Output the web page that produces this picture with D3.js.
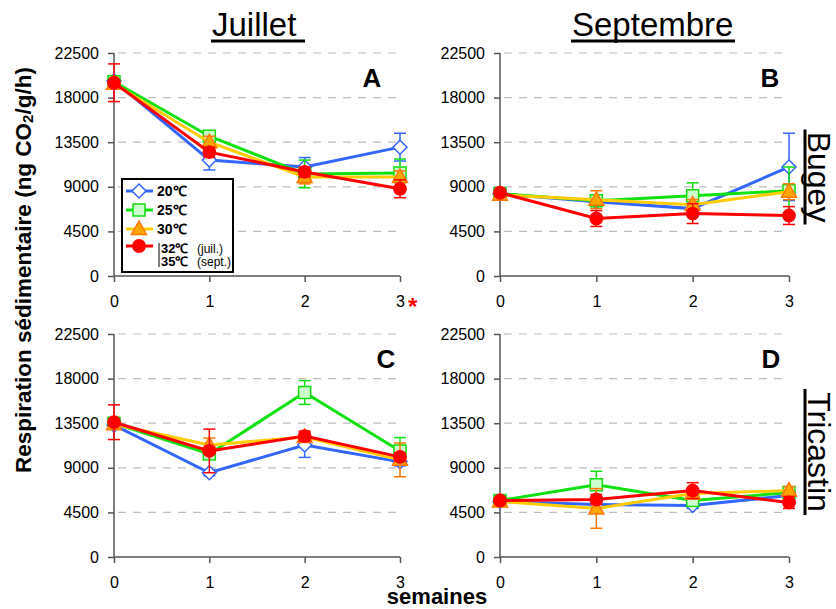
<!DOCTYPE html>
<html>
<head>
<meta charset="utf-8">
<script src="https://cdn.jsdelivr.net/npm/d3@7"></script>
<style>
  body { margin: 0; background: #fff; }
  text { font-family: "Liberation Sans", Arial, sans-serif; }
</style>
</head>
<body>
<svg id="chart" width="836" height="609"></svg>
<script>
// weeks and temperature series
const weeks = [0, 1, 2, 3];
const seriesNames = ["20℃", "25℃", "30℃", "32℃"];
const yTicks = [0, 4500, 9000, 13500, 18000, 22500];

// means per series (20, 25, 30, 32/35 °C) and their error bars
const aMeans = [
  [19700, 11700, 11000, 13000],
  [19600, 14100, 10300, 10400],
  [19400, 13500, 10000, 10000],
  [19500, 12500, 10500, 8800],
];
const aErrors = [
  [400, 1000, 950, 1400],
  [400, 500, 1400, 1400],
  [400, 600, 700, 600],
  [1900, 500, 500, 900],
];
const bMeans = [
  [8300, 7500, 6800, 11000],
  [8300, 7600, 8100, 8600],
  [8200, 7700, 7200, 8500],
  [8400, 5800, 6300, 6100],
];
const bErrors = [
  [300, 400, 400, 3400],
  [400, 400, 1300, 2400],
  [300, 900, 500, 800],
  [300, 800, 1000, 900],
];
const cMeans = [
  [13300, 8500, 11300, 9600],
  [13500, 10400, 16600, 10700],
  [13400, 11300, 12100, 9800],
  [13600, 10700, 12200, 10100],
];
const cErrors = [
  [300, 300, 1250, 400],
  [300, 400, 1200, 1350],
  [300, 700, 500, 1700],
  [1750, 2200, 500, 400],
];
const dMeans = [
  [5600, 5300, 5200, 6200],
  [5700, 7300, 5700, 6500],
  [5600, 4900, 6400, 6700],
  [5700, 5800, 6700, 5500],
];
const dErrors = [
  [200, 300, 300, 700],
  [300, 1350, 300, 300],
  [300, 2000, 500, 400],
  [300, 500, 800, 600],
];

const styles = [
  { line: "#3366ff", stroke: "#3366ff", fill: "#ffffff", err: "#3366ff", shape: "diamond" },
  { line: "#11e011", stroke: "#11dd11", fill: "#ccffcc", err: "#11dd11", shape: "square" },
  { line: "#ffcc00", stroke: "#ff7700", fill: "#ffa500", err: "#ff7700", shape: "triangle" },
  { line: "#ff0000", stroke: "#ff0000", fill: "#ff0000", err: "#ff0000", shape: "circle" },
];

const svg = d3.select("#chart");

const panels = [
  { letter: "A", means: aMeans, errors: aErrors, x0: 114, x1: 400, y0: 276, y1: 53, lx: 372 },
  { letter: "B", means: bMeans, errors: bErrors, x0: 500, x1: 789, y0: 276, y1: 53, lx: 770 },
  { letter: "C", means: cMeans, errors: cErrors, x0: 114, x1: 400, y0: 557, y1: 334, lx: 386 },
  { letter: "D", means: dMeans, errors: dErrors, x0: 500, x1: 789, y0: 557, y1: 334, lx: 771 },
];

function markerPath(shape) {
  if (shape === "diamond") return "M0,-7L7,0L0,7L-7,0Z";
  if (shape === "square") return "M-6,-6H6V6H-6Z";
  if (shape === "triangle") return "M0,-8L7.5,5.5L-7.5,5.5Z";
  return d3.symbol(d3.symbolCircle, 120)();
}

panels.forEach((p) => {
  const x = d3.scaleLinear().domain([0, 3]).range([p.x0, p.x1]);
  const y = d3.scaleLinear().domain([0, 22500]).range([p.y0, p.y1]);
  const g = svg.append("g");

  // dashed grid
  g.selectAll(".grid")
    .data(yTicks.slice(1))
    .enter()
    .append("line")
    .attr("x1", p.x0 + 4)
    .attr("x2", p.x1 - 1)
    .attr("y1", (d) => y(d))
    .attr("y2", (d) => y(d))
    .attr("stroke", "#bdbdbd")
    .attr("stroke-width", 1.2)
    .attr("stroke-dasharray", "8,7");

  // axes
  const yAxis = g.append("g")
    .attr("transform", `translate(${p.x0},0)`)
    .call(d3.axisLeft(y).tickValues(yTicks).tickSize(6).tickPadding(9).tickFormat(d3.format("d")));
  const xAxis = g.append("g")
    .attr("transform", `translate(0,${p.y0})`)
    .call(d3.axisBottom(x).tickValues(weeks).tickSize(6).tickPadding(14).tickFormat(d3.format("d")));
  [yAxis, xAxis].forEach((a) => {
    a.select(".domain").attr("stroke", "#555").attr("stroke-width", 1.5);
    a.selectAll(".tick line").attr("stroke", "#555").attr("stroke-width", 1.5);
    a.selectAll("text")
      .attr("font-size", "16px")
      .attr("fill", "#000")
      .attr("font-family", "Liberation Sans, Arial, sans-serif");
  });
  yAxis.select(".domain").attr("d", `M0,${p.y0}V${p.y1}`);
  xAxis.select(".domain").attr("d", `M${p.x0},0H${p.x1}`);

  // series
  p.means.forEach((vals, si) => {
    const st = styles[si];
    const pts = vals.map((v, i) => ({ w: weeks[i], v, e: p.errors[si][i] }));

    const eb = g.append("g");
    eb.selectAll("line.bar")
      .data(pts)
      .enter()
      .append("line")
      .attr("x1", (d) => x(d.w))
      .attr("x2", (d) => x(d.w))
      .attr("y1", (d) => y(d.v - d.e))
      .attr("y2", (d) => y(d.v + d.e))
      .attr("stroke", st.err)
      .attr("stroke-width", 1.5);
    [-1, 1].forEach((s) => {
      eb.selectAll(null)
        .data(pts)
        .enter()
        .append("line")
        .attr("x1", (d) => x(d.w) - 6)
        .attr("x2", (d) => x(d.w) + 6)
        .attr("y1", (d) => y(d.v + s * d.e))
        .attr("y2", (d) => y(d.v + s * d.e))
        .attr("stroke", st.err)
        .attr("stroke-width", 1.5);
    });

    g.append("path")
      .datum(pts)
      .attr("fill", "none")
      .attr("stroke", st.line)
      .attr("stroke-width", 3)
      .attr("d", d3.line().x((d) => x(d.w)).y((d) => y(d.v)));

    g.selectAll(null)
      .data(pts)
      .enter()
      .append("path")
      .attr("transform", (d) => `translate(${x(d.w)},${y(d.v)})`)
      .attr("d", markerPath(st.shape))
      .attr("fill", st.fill)
      .attr("stroke", st.stroke)
      .attr("stroke-width", 1.5);
  });

  // panel letter
  g.append("text")
    .attr("x", p.lx)
    .attr("y", p.y1 + 34)
    .attr("text-anchor", "middle")
    .attr("font-size", "26px")
    .attr("font-weight", "bold")
    .text(p.letter);
});

// red asterisk after week 3 in panel A
svg.append("text")
  .attr("x", 408)
  .attr("y", 315)
  .attr("font-size", "24px")
  .attr("font-weight", "bold")
  .attr("fill", "#ff0000")
  .text("*");

// column titles
[
  { t: "Juillet", x: 212, u: 305 },
  { t: "Septembre", x: 572, u: 735 },
].forEach((d) => {
  svg.append("text")
    .attr("x", d.x)
    .attr("y", 36)
    .attr("font-size", "33px")
    .text(d.t);
  svg.append("line")
    .attr("x1", d.x - 1)
    .attr("x2", d.u)
    .attr("y1", 41)
    .attr("y2", 41)
    .attr("stroke", "#000")
    .attr("stroke-width", 3);
});

// row titles
[
  { t: "Bugey", cy: 177, h: 95 },
  { t: "Tricastin", cy: 452, h: 126 },
].forEach((d) => {
  svg.append("text")
    .attr("transform", `translate(808,${d.cy}) rotate(90)`)
    .attr("text-anchor", "middle")
    .attr("font-size", "32px")
    .text(d.t);
  svg.append("line")
    .attr("x1", 805)
    .attr("x2", 805)
    .attr("y1", d.cy - d.h / 2)
    .attr("y2", d.cy + d.h / 2)
    .attr("stroke", "#000")
    .attr("stroke-width", 3);
});

// axis titles
const yLabel = svg.append("text")
  .attr("transform", "translate(31,270) rotate(-90)")
  .attr("text-anchor", "middle")
  .attr("font-size", "22.5px")
  .attr("font-weight", "bold");
yLabel.append("tspan").text("Respiration sédimentaire (ng CO");
yLabel.append("tspan").attr("font-size", "15px").attr("dy", 2).text("2");
yLabel.append("tspan").attr("dy", -2).text("/g/h)");

svg.append("text")
  .attr("x", 437)
  .attr("y", 604)
  .attr("text-anchor", "middle")
  .attr("font-size", "22px")
  .attr("font-weight", "bold")
  .text("semaines");

// legend
const legend = svg.append("g");
legend.append("rect")
  .attr("x", 122)
  .attr("y", 179)
  .attr("width", 111)
  .attr("height", 93)
  .attr("fill", "#fff")
  .attr("stroke", "#000")
  .attr("stroke-width", 2);

const legendY = [191, 210, 229, 246];
const items = legend.selectAll(".item")
  .data(seriesNames)
  .enter()
  .append("g")
  .attr("transform", (d, i) => `translate(0,${legendY[i]})`);

items.append("line")
  .attr("x1", 126)
  .attr("x2", 153)
  .attr("stroke", (d, i) => styles[i].line)
  .attr("stroke-width", 3);

items.append("path")
  .attr("transform", "translate(139,0)")
  .attr("d", (d, i) => markerPath(styles[i].shape))
  .attr("fill", (d, i) => styles[i].fill)
  .attr("stroke", (d, i) => styles[i].stroke)
  .attr("stroke-width", 1.5);

items.filter((d, i) => i < 3)
  .append("text")
  .attr("x", 157)
  .attr("y", 5)
  .attr("font-size", "14px")
  .attr("font-weight", "bold")
  .text((d) => d);

legend.append("line")
  .attr("x1", 159)
  .attr("x2", 159)
  .attr("y1", 243)
  .attr("y2", 267)
  .attr("stroke", "#555")
  .attr("stroke-width", 1.5);

[
  { t: "32℃", s: "(juil.)", y: 253 },
  { t: "35℃", s: "(sept.)", y: 266 },
].forEach((d) => {
  legend.append("text")
    .attr("x", 161)
    .attr("y", d.y)
    .attr("font-size", "13px")
    .attr("font-weight", "bold")
    .text(d.t);
  legend.append("text")
    .attr("x", 197)
    .attr("y", d.y)
    .attr("font-size", "12px")
    .text(d.s);
});
</script>
</body>
</html>
